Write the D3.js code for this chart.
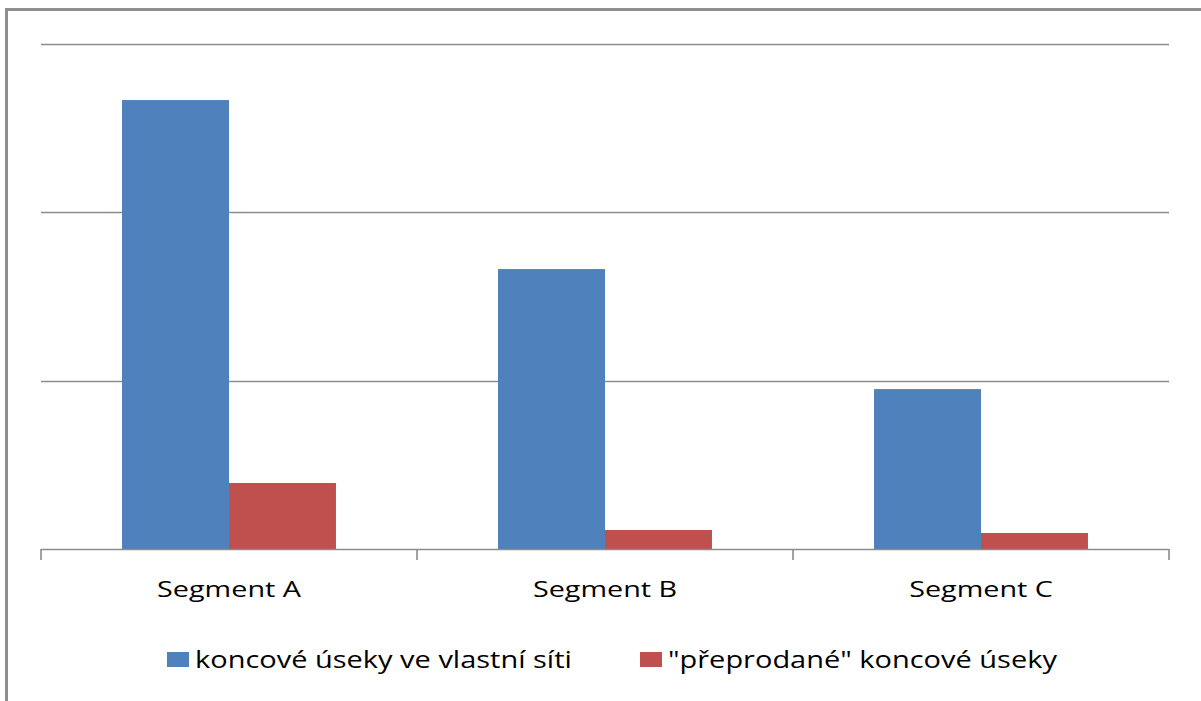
<!DOCTYPE html>
<html>
<head>
<meta charset="utf-8">
<script src="https://cdn.jsdelivr.net/npm/d3@7"></script>
<style>
  html, body { margin: 0; padding: 0; background: #fff; }
  svg { display: block; font-family: "Open Sans", sans-serif; }
</style>
</head>
<body>
<div id="chart"></div>
<script>
// categories and series
const categories = ["Segment A", "Segment B", "Segment C"];
const seriesNames = ["koncové úseky ve vlastní síti", "\"přeprodané\" koncové úseky"];
const ownNetwork = [2.667, 1.663, 0.95];
const resold = [0.392, 0.113, 0.095];
const yTicks = [0, 1, 2, 3];

const width = 1201;
const height = 701;
const colors = ["#4F81BD", "#C0504D"];
const stretch = 1.37; // text looks horizontally stretched in the original
const legendStretch = 1.26;

const rows = categories.map((c, i) => ({ cat: c, values: [ownNetwork[i], resold[i]] }));

const svg = d3.select("#chart").append("svg")
    .attr("width", width)
    .attr("height", height);

svg.append("rect")
    .attr("width", width).attr("height", height)
    .attr("fill", "#fff");

// outer frame (only top/left visible)
svg.append("rect")
    .attr("x", 6.5).attr("y", 9.5)
    .attr("width", 1400).attr("height", 900)
    .attr("fill", "none")
    .attr("stroke", "#8f8f8f")
    .attr("stroke-width", 3);

const x = d3.scaleBand()
    .domain(categories)
    .range([41, 1169])
    .paddingInner(0.431)
    .paddingOuter(0.2155);

const xInner = d3.scaleBand()
    .domain(d3.range(seriesNames.length))
    .range([0, x.bandwidth()]);

const y = d3.scaleLinear()
    .domain([0, 3])
    .range([549, 44]);

// gridlines
svg.append("g")
    .selectAll("line")
    .data(yTicks.slice(1))
    .join("line")
    .attr("x1", 41).attr("x2", 1169)
    .attr("y1", d => Math.round(y(d)) + 0.5)
    .attr("y2", d => Math.round(y(d)) + 0.5)
    .attr("stroke", "#8c8c8c")
    .attr("stroke-width", 1.6);

// bars
svg.append("g")
    .selectAll("g")
    .data(rows)
    .join("g")
    .attr("transform", d => `translate(${x(d.cat)},0)`)
    .selectAll("rect")
    .data(d => d.values)
    .join("rect")
    .attr("x", (d, i) => xInner(i))
    .attr("width", xInner.bandwidth())
    .attr("y", d => y(d))
    .attr("height", d => y(0) - y(d))
    .attr("fill", (d, i) => colors[i]);

// x axis
const axis = svg.append("g");
axis.append("line")
    .attr("x1", 41).attr("x2", 1169)
    .attr("y1", 549.5).attr("y2", 549.5)
    .attr("stroke", "#8c8c8c")
    .attr("stroke-width", 1.6);
axis.selectAll("line.tick")
    .data(d3.range(categories.length + 1))
    .join("line")
    .attr("class", "tick")
    .attr("x1", i => x.range()[0] + i * x.step())
    .attr("x2", i => x.range()[0] + i * x.step())
    .attr("y1", 549).attr("y2", 560)
    .attr("stroke", "#8c8c8c")
    .attr("stroke-width", 1.6);

// category labels
svg.append("g")
    .selectAll("text")
    .data(categories)
    .join("text")
    .attr("transform", d => `translate(${x(d) + x.bandwidth() / 2},597) scale(${stretch},1)`)
    .attr("text-anchor", "middle")
    .style("font-size", "21px")
    .attr("fill", "#000")
    .text(d => d);

// legend
const legendX = [167, 640];
const legend = svg.append("g")
    .selectAll("g")
    .data(seriesNames)
    .join("g")
    .attr("transform", (d, i) => `translate(${legendX[i]},652)`);

legend.append("rect")
    .attr("width", 22).attr("height", 15)
    .attr("fill", (d, i) => colors[i]);

legend.append("text")
    .attr("transform", `translate(28,16) scale(${legendStretch},1)`)
    .style("font-size", "23px")
    .attr("fill", "#000")
    .text(d => d);
</script>
</body>
</html>
